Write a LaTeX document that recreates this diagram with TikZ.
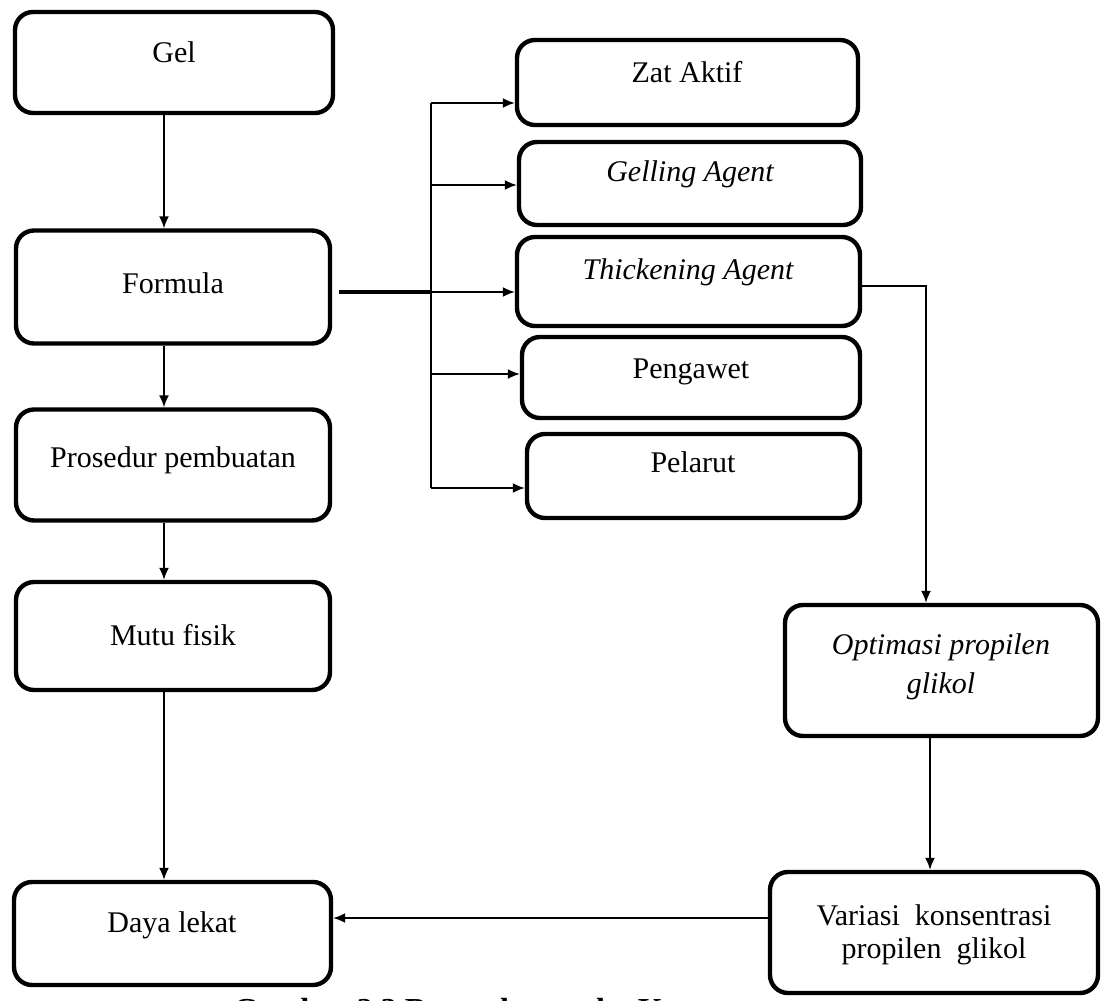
\documentclass[tikz,border=0pt]{standalone}
\usepackage{fontspec}
\setmainfont{Liberation Serif}
\usetikzlibrary{arrows.meta}
\tikzset{
  box/.style={draw, line width=2.2pt, rounded corners=9pt, fill=white, inner sep=0pt},
  lbl/.style={font=\fontsize{15}{18}\selectfont, inner sep=0pt, align=center},
  arr/.style={line width=0.9pt, -{Latex[length=6pt,width=5pt]}},
  ln/.style={line width=0.9pt},
  thickln/.style={line width=2.2pt}
}
\begin{document}
\begin{tikzpicture}[x=0.5pt,y=-0.5pt]
\path[use as bounding box, clip] (0,0) rectangle (1109,1001);
\fill[white] (0,0) rectangle (1109,1001);
% caption (cut off by the page edge, as in the reference)
\node[anchor=base west, inner sep=0pt, font=\bfseries\fontsize{16}{19}\selectfont] (cap) at (233,1020) {Gambar 2.3 Bagan kerangka Konsep};
% left column
\node[box, minimum width=159pt, minimum height=50.5pt] (gel) at (174,62.5) {};
\node[lbl] (tgel) at (174,52) {Gel};
\node[box, minimum width=157pt, minimum height=56.5pt] (formula) at (173,287) {};
\node[lbl] (tformula) at (173,283) {Formula};
\node[box, minimum width=157pt, minimum height=55.5pt] (prosedur) at (173,465) {};
\node[lbl] (tprosedur) at (173,460) {Prosedur pembuatan};
\node[box, minimum width=157pt, minimum height=54pt] (mutu) at (173,636) {};
\node[lbl] (tmutu) at (173,635) {Mutu fisik};
\node[box, minimum width=158.5pt, minimum height=51.5pt] (daya) at (172.5,933.5) {};
\node[lbl] (tdaya) at (172,925) {Daya lekat};
% middle column
\node[box, minimum width=170.5pt, minimum height=42.5pt] (zat) at (687.5,82.5) {};
\node[lbl] (tzat) at (687,72) {Zat Aktif};
\node[box, minimum width=171pt, minimum height=41.5pt] (gelling) at (690,183.5) {};
\node[lbl] (tgelling) at (690,174) {\itshape Gelling Agent};
\node[box, minimum width=171.5pt, minimum height=44.5pt] (thick) at (688.5,281.5) {};
\node[lbl] (tthick) at (688,272) {\itshape Thickening Agent};
\node[box, minimum width=169pt, minimum height=40.5pt] (pengawet) at (691,377.5) {};
\node[lbl] (tpengawet) at (691,372) {Pengawet};
\node[box, minimum width=166.5pt, minimum height=42pt] (pelarut) at (693.5,476) {};
\node[lbl] (tpelarut) at (693,462) {Pelarut};
% right column
\node[box, minimum width=156.5pt, minimum height=65.5pt] (optimasi) at (941.5,670.5) {};
\node[lbl] (topt1) at (941,647) {\itshape Optimasi propilen};
\node[lbl] (topt2) at (941,686) {\itshape glikol};
\node[box, minimum width=164pt, minimum height=60.5pt] (variasi) at (934,932.5) {};
\node[lbl] (tvar1) at (934,915) {Variasi\enspace konsentrasi};
\node[lbl] (tvar2) at (934,951) {propilen\enspace glikol};
% helper coordinates
\coordinate (lx) at (164,0);
\coordinate (hub) at (431,292);
\coordinate (ttop) at (431,103);
\coordinate (tbot) at (431,488);
\coordinate (bz) at (431,103);
\coordinate (bg) at (431,185);
\coordinate (bt) at (431,292);
\coordinate (bp) at (431,374);
\coordinate (bl) at (431,488);
\coordinate (tk) at (926,286);
\coordinate (ov) at (930,0);
\coordinate (vd) at (0,918);
% left column arrows
\draw[arr] (gel.south -| lx) -- (formula.north -| lx);
\draw[arr] (formula.south -| lx) -- (prosedur.north -| lx);
\draw[arr] (prosedur.south -| lx) -- (mutu.north -| lx);
\draw[arr] (mutu.south -| lx) -- (daya.north -| lx);
% formula to branches
\draw[thickln] (formula.east |- hub) ++(7,0) -- (hub);
\draw[ln] (ttop) -- (tbot);
\draw[arr] (bz) -- (bz -| zat.west);
\draw[arr] (bg) -- (bg -| gelling.west);
\draw[arr] (bt) -- (bt -| thick.west);
\draw[arr] (bp) -- (bp -| pengawet.west);
\draw[arr] (bl) -- (bl -| pelarut.west);
% thickening agent to optimasi
\draw[arr] (thick.east |- tk) -- (tk) -- (tk |- optimasi.north);
\draw[arr] (optimasi.south -| ov) -- (variasi.north -| ov);
\draw[arr] (variasi.west |- vd) -- (daya.east |- vd);
\end{tikzpicture}
\end{document}
